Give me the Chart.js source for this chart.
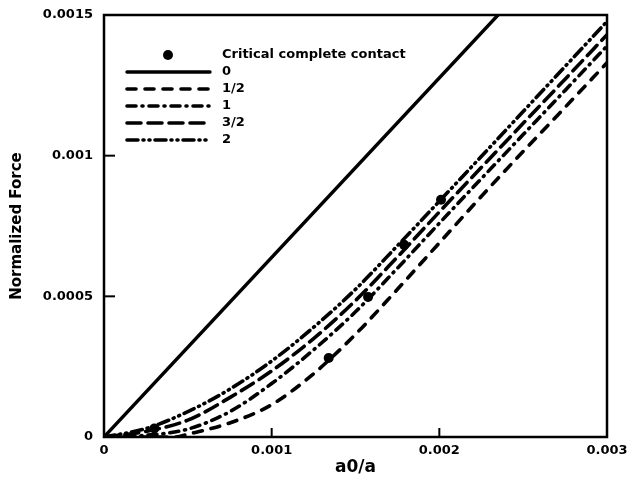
<!DOCTYPE html>
<html>
<head>
<meta charset="utf-8">
<script src="https://cdn.jsdelivr.net/npm/chart.js@4.4.1/dist/chart.umd.min.js"></script>
<style>
html,body{margin:0;padding:0;background:#fff;}
#wrap{width:629px;height:479px;}
</style>
</head>
<body>
<div id="wrap"><canvas id="c" width="629" height="479"></canvas></div>
<script>
// ---- data (x = a0/a, y = Normalized Force) ----
const xGrid = [0, 0.00025, 0.0005, 0.00075, 0.001, 0.00125, 0.0015, 0.00175, 0.002, 0.00225, 0.0025, 0.00275, 0.003];
const series0X = [0, 0.00235];
const series0Y = [0, 0.0015];
const seriesHalfX = [0, 0.00042, 0.0005, 0.00075, 0.001, 0.00125, 0.0015, 0.00175, 0.002, 0.00225, 0.0025, 0.00275, 0.003];
const seriesHalfY = [0, 0, 0.00001, 0.00005, 0.000115, 0.000225, 0.000365, 0.000525, 0.00069, 0.000855, 0.001015, 0.001172, 0.00133];
const series1Y = [0, 0.000006, 0.000028, 0.00009, 0.00019, 0.00031, 0.000445, 0.0006, 0.00076, 0.000918, 0.001075, 0.001232, 0.00139];
const series3halfY = [0, 0.00002, 0.00006, 0.00014, 0.000235, 0.00035, 0.000485, 0.00064, 0.0008, 0.000958, 0.001115, 0.001272, 0.00143];
const series2Y = [0, 0.00003, 0.00009, 0.00017, 0.00027, 0.00039, 0.000525, 0.00068, 0.000838, 0.000997, 0.001157, 0.001317, 0.001477];
const criticalX = [0.0003, 0.00134, 0.001575, 0.00179, 0.00201];
const criticalY = [0.00003, 0.000281, 0.000498, 0.000683, 0.000843];
const xTickLabels = ['0', '0.001', '0.002', '0.003'];
const yTickLabels = ['0', '0.0005', '0.001', '0.0015'];
const seriesLabels = ['Critical complete contact', '0', '1/2', '1', '3/2', '2'];

function pts(xs, ys){ return xs.map((x,i)=>({x:x, y:ys[i]})); }

const FONT = "'DejaVu Sans', 'Liberation Sans', Arial, sans-serif";
const lineStyles = [
  {dash: [], width: 3.4},
  {dash: [9, 9], width: 3.6},
  {dash: [9, 6, 1, 6], width: 3.6},
  {dash: [14, 7], width: 3.6},
  {dash: [11, 5, 1, 5, 1, 5], width: 3.6}
];

const datasets = [
  {label: seriesLabels[1], data: pts(series0X, series0Y)},
  {label: seriesLabels[2], data: pts(seriesHalfX, seriesHalfY)},
  {label: seriesLabels[3], data: pts(xGrid, series1Y)},
  {label: seriesLabels[4], data: pts(xGrid, series3halfY)},
  {label: seriesLabels[5], data: pts(xGrid, series2Y)}
].map((d,i)=>Object.assign(d, {
  showLine: true, borderColor: '#000', backgroundColor: '#000',
  borderWidth: lineStyles[i].width, borderDash: lineStyles[i].dash,
  borderCapStyle: 'round', pointRadius: 0, cubicInterpolationMode: 'monotone'
}));
datasets.push({
  label: seriesLabels[0], data: pts(criticalX, criticalY),
  showLine: false, pointRadius: 5, pointBackgroundColor: '#000', pointBorderColor: '#000', pointBorderWidth: 0
});

const framePlugin = {
  id: 'frame',
  afterDraw(chart){
    const {ctx, chartArea: a, scales: {x, y}} = chart;
    ctx.save();
    ctx.strokeStyle = '#000';
    ctx.lineWidth = 2.5;
    ctx.setLineDash([]);
    ctx.strokeRect(a.left, a.top, a.right - a.left, a.bottom - a.top);
    ctx.lineWidth = 2;
    [0.0005, 0.001].forEach(v=>{
      const py = y.getPixelForValue(v);
      ctx.beginPath(); ctx.moveTo(a.left, py); ctx.lineTo(a.left + 11, py); ctx.stroke();
    });
    [0.001, 0.002].forEach(v=>{
      const px = x.getPixelForValue(v);
      ctx.beginPath(); ctx.moveTo(px, a.bottom); ctx.lineTo(px, a.bottom - 9); ctx.stroke();
    });
    // legend
    const lx0 = 127, lx1 = 210, tx = 222, rows = [55, 72, 89, 106, 123, 140];
    ctx.font = 'bold 13px ' + FONT;
    ctx.fillStyle = '#000';
    ctx.textBaseline = 'middle';
    ctx.textAlign = 'left';
    ctx.beginPath(); ctx.arc(168, rows[0], 5, 0, Math.PI*2); ctx.fill();
    ctx.fillText(seriesLabels[0], tx, rows[0]);
    for (let i = 0; i < 5; i++){
      ctx.lineWidth = lineStyles[i].width;
      ctx.lineCap = 'round';
      ctx.setLineDash(lineStyles[i].dash);
      ctx.beginPath(); ctx.moveTo(lx0, rows[i+1]); ctx.lineTo(lx1, rows[i+1]); ctx.stroke();
      ctx.fillText(seriesLabels[i+1], tx, rows[i+1]);
    }
    ctx.restore();
  }
};

function zeroPad(s){ s.paddingLeft = 0; s.paddingRight = 0; s.paddingTop = 0; s.paddingBottom = 0; }

new Chart(document.getElementById('c'), {
  type: 'scatter',
  data: {datasets},
  plugins: [framePlugin],
  options: {
    responsive: false,
    animation: false,
    layout: {padding: {left: 0, right: 22, top: 15, bottom: 0}},
    plugins: {legend: {display: false}, tooltip: {enabled: false}},
    scales: {
      x: {
        type: 'linear', min: 0, max: 0.003,
        afterFit(s){ s.height = 42; zeroPad(s); },
        grid: {display: false, drawTicks: false}, border: {display: false},
        ticks: {stepSize: 0.001, padding: 6, color: '#000', maxRotation: 0,
          font: {family: FONT, weight: 'bold', size: 13},
          callback(v){ return xTickLabels[Math.round(v / 0.001)]; }},
        title: {display: true, text: 'a0/a', color: '#000', padding: {top: 0, bottom: 1},
          font: {family: FONT, weight: 'bold', size: 17}}
      },
      y: {
        type: 'linear', min: 0, max: 0.0015,
        afterFit(s){ s.width = 104; zeroPad(s); },
        grid: {display: false, drawTicks: false}, border: {display: false},
        ticks: {stepSize: 0.0005, padding: 11, color: '#000',
          font: {family: FONT, weight: 'bold', size: 13},
          callback(v){ return yTickLabels[Math.round(v / 0.0005)]; }},
        title: {display: true, text: 'Normalized Force', color: '#000', padding: {top: 8, bottom: 0},
          font: {family: FONT, weight: 'bold', size: 15}}
      }
    }
  }
});
</script>
</body>
</html>
